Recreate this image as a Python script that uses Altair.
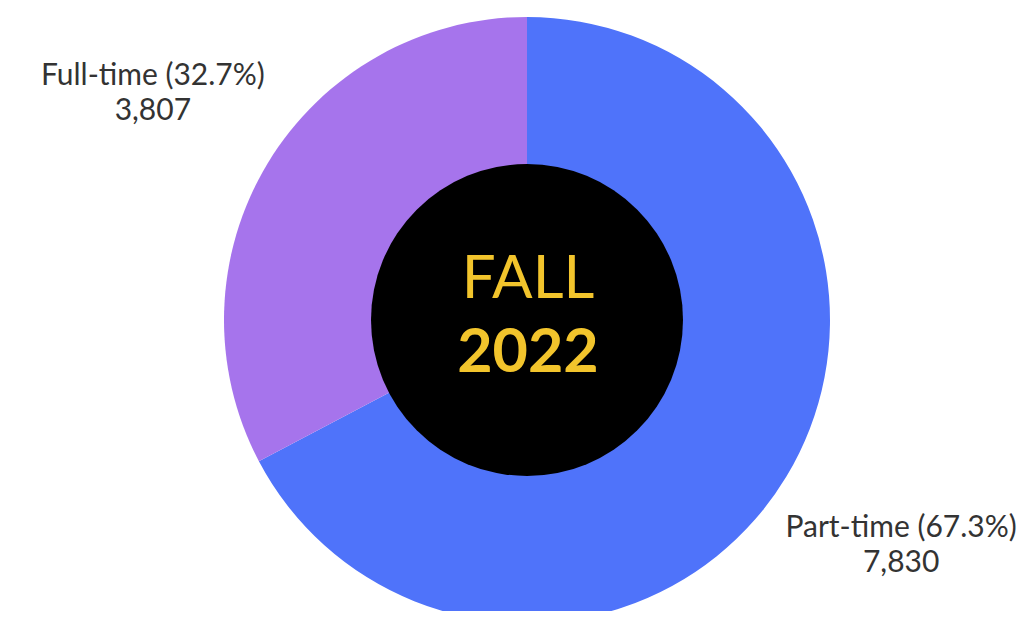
import altair as alt
import pandas as pd

categories = ["Part-time", "Full-time"]
counts = [7830, 3807]
colors = ["#4F73FA", "#A674EC"]
center_line1 = "FALL"
center_line2 = "2022"

total = sum(counts)
df = pd.DataFrame({
    "category": categories,
    "count": counts,
    "order": list(range(len(categories))),
})
df["label1"] = [f"{c} ({v / total * 100:.1f}%)" for c, v in zip(categories, counts)]
df["label2"] = [f"{v:,}" for v in counts]

CX, CY = 519, 312

base = alt.Chart(df).encode(
    theta=alt.Theta("count:Q", stack=True),
    order=alt.Order("order:Q"),
    x=alt.value(CX),
    y=alt.value(CY),
)

ring = base.mark_arc(radius=303, innerRadius=0).encode(
    color=alt.Color("category:N", scale=alt.Scale(domain=categories, range=colors), legend=None)
)

lab1 = base.mark_text(radius=437, font="Lato", fontSize=30, color="#333333", dy=-18).encode(
    text="label1:N"
)
lab2 = base.mark_text(radius=437, font="Lato", fontSize=30, color="#333333", dy=17).encode(
    text="label2:N"
)

hole = alt.Chart(pd.DataFrame({"v": [1]})).mark_arc(
    radius=156, theta=0, theta2=6.2832, color="black"
).encode(
    x=alt.value(CX),
    y=alt.value(CY),
)

t1 = alt.Chart(pd.DataFrame({"t": [center_line1]})).mark_text(
    font="Lato", fontSize=60, color="#F2C42C", fontWeight=400, baseline="middle"
).encode(text="t:N", x=alt.value(CX + 1), y=alt.value(CY - 40))
t2 = alt.Chart(pd.DataFrame({"t": [center_line2]})).mark_text(
    font="Lato", fontSize=61, color="#F2C42C", fontWeight=700, baseline="middle"
).encode(text="t:N", x=alt.value(CX + 1), y=alt.value(CY + 34))

chart = alt.layer(ring, hole, lab1, lab2, t1, t2).properties(
    width=1019, height=603,
    autosize=alt.AutoSizeParams(type="none"),
    padding=0,
).configure(background="white").configure_view(strokeWidth=0)

chart.save("out.html", embed_options={"renderer": "svg", "actions": False})
